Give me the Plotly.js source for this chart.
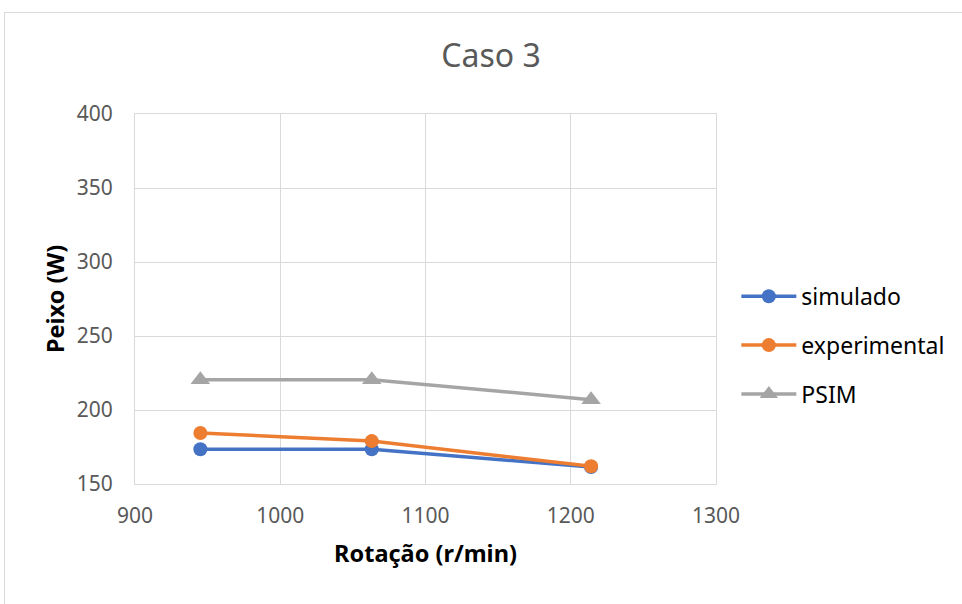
<!DOCTYPE html>
<html>
<head>
<meta charset="utf-8">
<script src="https://cdn.plot.ly/plotly-3.0.1.min.js"></script>
<style>
html,body{margin:0;padding:0;background:#fff;}
#chart{width:962px;height:604px;position:absolute;left:0;top:0;}
#frame{position:absolute;left:4px;top:12px;width:1000px;height:700px;border:1px solid #d9d9d9;pointer-events:none;}
</style>
</head>
<body>
<div id="chart"></div>
<div id="frame"></div>
<script>
const rotacao = [945, 1063, 1214];
const simulado = [173.5, 173.5, 161.5];
const experimental = [184.5, 179, 162];
const psim = [220.5, 220.5, 207];
const seriesNames = ['simulado', 'experimental', 'PSIM'];
const xTicks = [900, 1000, 1100, 1200, 1300];
const yTicks = [150, 200, 250, 300, 350, 400];

const fontFam = 'Noto Sans, Open Sans, sans-serif';
const colors = ['#4472C4', '#ED7D31', '#A5A5A5'];
const symbols = ['circle', 'circle', 'triangle-up'];
const ys = [simulado, experimental, psim];

const traces = ys.map((y, i) => ({
  x: rotacao, y: y, name: seriesNames[i], type: 'scatter', mode: 'lines+markers',
  legendgroup: 'g' + i,
  line: {color: colors[i], width: 3.5},
  marker: {color: colors[i], symbol: symbols[i], size: i === 2 ? 17 : 14}
}));

const layout = {
  width: 962, height: 604,
  margin: {l: 135, r: 244, t: 114, b: 120},
  paper_bgcolor: '#fff', plot_bgcolor: '#fff',
  font: {family: fontFam, color: '#595959'},
  title: {text: 'Caso 3', x: 0.5104, xanchor: 'center', xref: 'container', y: 0.907, yanchor: 'middle', yref: 'container',
          font: {size: 32, color: '#595959', family: fontFam}},
  xaxis: {range: [900, 1300], tickvals: xTicks, ticktext: xTicks.map(String), showgrid: true, gridcolor: '#d9d9d9', gridwidth: 1,
          zeroline: false, showline: true, linecolor: '#d9d9d9', mirror: true, ticks: '', ticklabelstandoff: 13,
          tickfont: {size: 21, color: '#595959'},
          title: {text: '<b>Rotação (r/min)</b>', font: {size: 23.5, color: '#000'}, standoff: 17}, automargin: false},
  yaxis: {range: [150, 400], tickvals: yTicks, ticktext: yTicks.map(String), showgrid: true, gridcolor: '#d9d9d9', gridwidth: 1,
          zeroline: false, showline: true, linecolor: '#d9d9d9', mirror: true, ticks: '', ticklabelstandoff: 17,
          tickfont: {size: 21, color: '#595959'},
          title: {text: '<b>Peixo (W)</b>', font: {size: 23.5, color: '#000'}, standoff: 5}, automargin: false},
  legend: {x: 1.035, xanchor: 'left', y: 0.375, yanchor: 'middle', font: {size: 23, color: '#000'},
           tracegroupgap: 16, itemwidth: 55, bgcolor: 'rgba(0,0,0,0)'},
  showlegend: true
};

Plotly.newPlot('chart', traces, layout, {displayModeBar: false, staticPlot: true});
</script>
</body>
</html>
